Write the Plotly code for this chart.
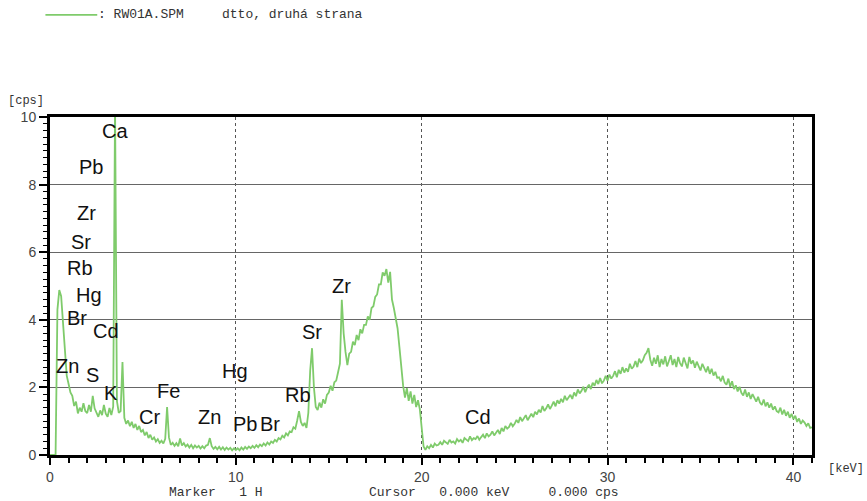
import plotly.graph_objects as go

# XRF spectrum RW01A.SPM, counts per second per 0.1 keV channel
energy_start = 0.0   # keV
energy_step = 0.1    # keV per channel

cps = [
    # 0.0 - 0.9
    0, 0, 0, 0, 4.3, 4.88, 4.7, 3.95, 3.0, 2.35,
    # 1.0 - 1.9
    2.1, 1.85, 1.75, 1.45, 1.58, 1.23, 1.4, 1.28, 1.53, 1.3,
    # 2.0 - 2.9
    1.24, 1.48, 1.28, 1.75, 1.38, 1.24, 1.13, 1.32, 1.18, 1.48,
    # 3.0 - 3.9
    1.22, 1.13, 1.39, 1.18, 1.43, 10.4, 1.6, 1.25, 1.3, 2.75,
    # 4.0 - 4.9
    1.1, 0.92, 1.02, 0.85, 0.98, 0.8, 0.92, 0.74, 0.86, 0.68,
    # 5.0 - 5.9
    0.74, 0.58, 0.68, 0.5, 0.6, 0.45, 0.52, 0.4, 0.47, 0.36,
    # 6.0 - 6.9
    0.42, 0.34, 0.48, 1.42, 0.52, 0.3, 0.36, 0.27, 0.35, 0.26,
    # 7.0 - 7.9
    0.49, 0.28, 0.35, 0.25, 0.31, 0.22, 0.3, 0.2, 0.28, 0.22,
    # 8.0 - 8.9
    0.27, 0.19, 0.26, 0.2, 0.28, 0.3, 0.5, 0.26, 0.18, 0.24,
    # 9.0 - 9.9
    0.17, 0.24, 0.16, 0.23, 0.15, 0.22, 0.16, 0.21, 0.14, 0.2,
    # 10.0 - 10.9
    0.15, 0.2, 0.14, 0.22, 0.16, 0.24, 0.18, 0.25, 0.2, 0.27,
    # 11.0 - 11.9
    0.21, 0.29, 0.23, 0.31, 0.26, 0.34, 0.28, 0.37, 0.31, 0.4,
    # 12.0 - 12.9
    0.36, 0.45, 0.4, 0.5, 0.46, 0.57, 0.52, 0.64, 0.58, 0.7,
    # 13.0 - 13.9
    0.68, 0.82, 0.78, 1.02, 1.3, 0.98, 0.86, 0.95, 0.8, 1.25,
    # 14.0 - 14.9
    2.5, 3.16, 2.0, 1.42, 1.33, 1.55, 1.4, 1.65, 1.52, 1.78,
    # 15.0 - 15.9
    1.85, 2.05, 1.9, 2.15, 2.2, 2.45, 2.7, 4.59, 3.6, 3.05,
    # 16.0 - 16.9
    2.66, 3.0, 3.05, 3.35, 3.25, 3.55, 3.4, 3.72, 3.6, 3.85,
    # 17.0 - 17.9
    3.85, 4.1, 4.0, 4.35, 4.4, 4.68, 4.75, 5.05, 5.05, 5.4,
    # 18.0 - 18.9
    5.3, 5.5, 5.1, 5.42, 4.6, 4.35, 4.05, 3.75, 3.2, 2.6,
    # 19.0 - 19.9
    2.05, 1.7, 1.98, 1.6, 1.88, 1.52, 1.78, 1.42, 1.62, 1.35,
    # 20.0 - 20.9
    0.7, 0.25, 0.15, 0.26, 0.2, 0.3, 0.22, 0.34, 0.28, 0.3,
    # 21.0 - 21.9
    0.38, 0.3, 0.42, 0.36, 0.33, 0.45, 0.37, 0.4, 0.34, 0.47,
    # 22.0 - 22.9
    0.4, 0.45, 0.36, 0.5, 0.46, 0.41, 0.55, 0.44, 0.5, 0.47,
    # 23.0 - 23.9
    0.56, 0.45, 0.53, 0.6, 0.5, 0.64, 0.55, 0.6, 0.7, 0.58,
    # 24.0 - 24.9
    0.66, 0.74, 0.62, 0.8, 0.7, 0.86, 0.78, 0.83, 0.95, 0.85,
    # 25.0 - 25.9
    0.92, 1.04, 0.95, 1.12, 1.0, 1.08, 1.18, 1.03, 1.15, 1.22,
    # 26.0 - 26.9
    1.12, 1.28, 1.2, 1.34, 1.26, 1.45, 1.3, 1.38, 1.5, 1.36,
    # 27.0 - 27.9
    1.46, 1.58, 1.44, 1.62, 1.52, 1.66, 1.56, 1.75, 1.62, 1.7,
    # 28.0 - 28.9
    1.78, 1.66, 1.85, 1.74, 1.94, 1.82, 1.9, 2.02, 1.86, 2.0,
    # 29.0 - 29.9
    2.08, 1.95, 2.14, 2.05, 2.22, 2.1, 2.28, 2.12, 2.2, 2.34,
    # 30.0 - 30.9
    2.2, 2.38, 2.26, 2.34, 2.48, 2.3, 2.52, 2.4, 2.6, 2.44,
    # 31.0 - 31.9
    2.56, 2.46, 2.7, 2.55, 2.62, 2.78, 2.6, 2.85, 2.72, 2.8,
    # 32.0 - 32.9
    2.95, 3.02, 3.16, 2.82, 2.64, 2.88, 2.7, 2.95, 2.6, 2.84,
    # 33.0 - 33.9
    2.68, 2.92, 2.62, 2.78, 2.95, 2.66, 2.84, 2.6, 2.9, 2.72,
    # 34.0 - 34.9
    2.62, 2.88, 2.74, 2.56, 2.9, 2.7, 2.8, 2.58, 2.76, 2.64,
    # 35.0 - 35.9
    2.5, 2.7, 2.58, 2.45, 2.62, 2.4, 2.55, 2.35, 2.46, 2.28,
    # 36.0 - 36.9
    2.3, 2.18, 2.34, 2.14, 2.08, 2.26, 2.02, 2.18, 1.95, 2.06,
    # 37.0 - 37.9
    1.88, 2.02, 1.84, 1.76, 1.94, 1.72, 1.85, 1.66, 1.8, 1.7,
    # 38.0 - 38.9
    1.58, 1.72, 1.55, 1.48, 1.64, 1.44, 1.56, 1.4, 1.52, 1.34,
    # 39.0 - 39.9
    1.44, 1.3, 1.26, 1.4, 1.2, 1.34, 1.16, 1.28, 1.1, 1.22,
    # 40.0 - 41.0
    1.06, 1.16, 0.98, 1.08, 0.92, 1.02, 0.96, 0.86, 0.94, 0.8, 0.82,
]

energy = [round(energy_start + i * energy_step, 2) for i in range(len(cps))]

# Element line labels
elements = ["Ca", "Pb", "Zr", "Sr", "Rb", "Hg", "Br", "Cd", "Zn", "S", "K",
            "Fe", "Cr", "Zn", "Hg", "Pb", "Br", "Rb", "Sr", "Zr", "Cd"]
# label placement in (keV, cps)
label_pos = [(3.51, 9.6), (2.2, 8.53), (1.95, 7.16), (1.69, 6.31), (1.63, 5.53),
             (2.12, 4.73), (1.45, 4.04), (3.03, 3.68), (0.96, 2.63), (2.26, 2.37),
             (3.28, 1.84), (6.35, 1.89), (5.35, 1.13), (8.57, 1.12), (9.96, 2.49),
             (10.5, 0.92), (11.86, 0.92), (13.32, 1.78), (14.09, 3.65), (15.7, 5.0),
             (23.04, 1.13)]

x_range = [0, 41]
y_range = [0, 10]

line_color = "#7fcb6b"
mono = "Liberation Mono, Courier New, monospace"
sans = "Liberation Sans, Arial, sans-serif"

fig = go.Figure()
fig.add_trace(go.Scatter(
    x=energy, y=cps, mode="lines",
    line=dict(color=line_color, width=1.8),
    hoverinfo="skip", showlegend=False,
))

annotations = []
for name, (ex, ey) in zip(elements, label_pos):
    annotations.append(dict(
        x=ex, y=ey, xref="x", yref="y", text=name, showarrow=False,
        font=dict(family=sans, size=20, color="#111111"),
        xanchor="center", yanchor="middle",
    ))

# header and footer texts (paper coordinates)
header_footer = [
    (": RW01A.SPM", 0.063, 1.302, 13),
    ("dtto, druhá strana", 0.226, 1.302, 13),
    ("[cps]", -0.055, 1.047, 12),
    ("[keV]", 1.021, -0.041, 12),
    ("Marker   1 H", 0.156, -0.11, 13),
    ("Cursor   0.000 keV     0.000 cps", 0.418, -0.11, 13),
]
for txt, px, py, fs in header_footer:
    annotations.append(dict(
        x=px, y=py, xref="paper", yref="paper", text=txt, showarrow=False,
        font=dict(family=mono, size=fs, color="#333333"),
        xanchor="left", yanchor="middle", xshift=-2,
    ))

fig.update_layout(
    width=867, height=501,
    margin=dict(l=50, r=55, t=117, b=46),
    paper_bgcolor="white", plot_bgcolor="white",
    annotations=annotations,
    shapes=[dict(
        type="line", xref="paper", yref="paper",
        x0=-0.006, x1=0.062, y0=1.302, y1=1.302,
        line=dict(color=line_color, width=1.6),
    )],
)

fig.update_xaxes(
    range=x_range, dtick=10, tick0=0,
    showline=True, linecolor="black", linewidth=2.5, mirror=True,
    showgrid=True, gridcolor="#555555", gridwidth=1, griddash="dot",
    zeroline=False,
    ticks="outside", ticklen=7, tickwidth=1.5, tickcolor="black",
    minor=dict(dtick=1, ticks="outside", ticklen=5, tickwidth=1.5,
               tickcolor="black", showgrid=False),
    tickfont=dict(family=sans, size=14, color="#444444"),
)
fig.update_yaxes(
    range=y_range, dtick=2, tick0=0,
    showline=True, linecolor="black", linewidth=3, mirror=True,
    showgrid=True, gridcolor="#666666", gridwidth=1,
    zeroline=False,
    ticks="outside", ticklen=8, tickwidth=1.5, tickcolor="black",
    minor=dict(dtick=0.2, ticks="outside", ticklen=4, tickwidth=1.2,
               tickcolor="black", showgrid=False),
    tickfont=dict(family=sans, size=14, color="#444444"),
)

fig.write_html("out.html")
